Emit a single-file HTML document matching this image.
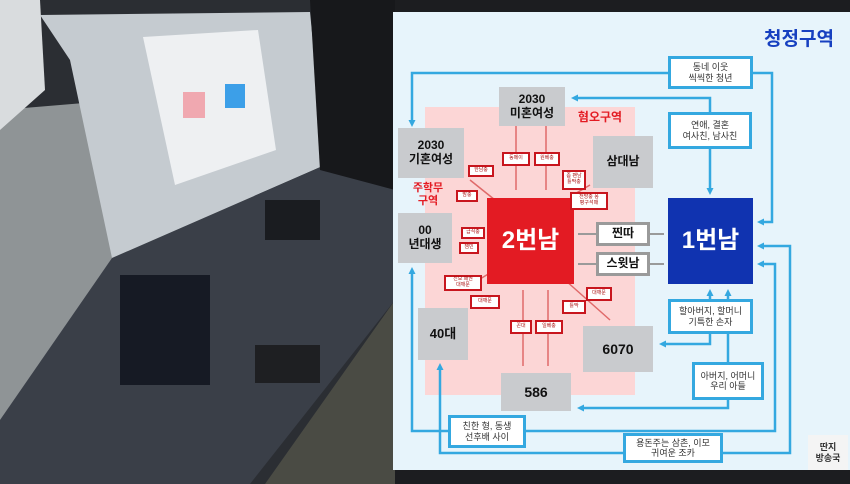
<!DOCTYPE html>
<html><head><meta charset="utf-8"><style>
body{margin:0;width:850px;height:484px;overflow:hidden;background:#1c1d20;font-family:"Liberation Sans","Noto Sans CJK KR",sans-serif;position:relative}
.a{position:absolute;box-sizing:border-box;display:flex;align-items:center;justify-content:center;text-align:center;line-height:1.15;font-weight:bold}
.g{background:#c9cbce;color:#111;font-size:12px}
.b{background:#fff;border:3px solid #34a8e0;color:#333;font-size:9px;font-weight:normal}
.r{background:#fff;border:2px solid #c8161e;color:#a11;font-size:5px;font-weight:normal;padding:1px}
.w{background:#fff;border:3px solid #9a9a9a;color:#111;font-size:12px}
</style></head><body>
<svg width="850" height="484" style="position:absolute;left:0;top:0">
<defs><marker id="m" markerUnits="userSpaceOnUse" markerWidth="7" markerHeight="7" refX="4" refY="3.5" orient="auto"><path d="M0,0 L7,3.5 L0,7z" fill="#34a8e0"/></marker></defs>
<rect x="0" y="0" width="395" height="484" fill="#2b2e33"/>
<polygon points="0,110 120,100 330,250 330,300 0,420" fill="#8f9496"/>
<polygon points="0,0 40,0 45,90 0,130" fill="#d9dcde"/>
<polygon points="40,15 310,12 325,165 112,258 70,60" fill="#c5cbd0"/>
<polygon points="143,37 258,30 276,150 175,185" fill="#eef0f2"/>
<rect x="183" y="92" width="22" height="26" fill="#f0a8b0"/>
<rect x="225" y="84" width="20" height="24" fill="#3c9fe8"/>
<polygon points="112,258 325,165 395,190 395,300 250,484 0,484 0,420" fill="#3a3f48"/>
<polygon points="310,0 395,0 395,190 320,170" fill="#17181b"/>
<rect x="265" y="200" width="55" height="40" fill="#1a1c20"/>
<rect x="120" y="275" width="90" height="110" fill="#161a24"/>
<rect x="255" y="345" width="65" height="38" fill="#1e1f22"/>
<polygon points="395,300 395,484 265,484" fill="#4a4b44"/>
<rect x="393" y="12" width="457" height="458" fill="#e7f4fb"/>
<rect x="425" y="107" width="210" height="288" fill="#fcd6d6"/>
<g stroke="#34a8e0" stroke-width="2.5" fill="none" marker-end="url(#m)">
<polyline points="668,73 412,73 412,124"/>
<polyline points="752,73 772,73 772,222 760,222"/>
<polyline points="710,113 710,98 574,98"/>
<polyline points="710,148 710,192"/>
<polyline points="710,299 710,292"/><polyline points="728,299 728,292"/>
<polyline points="710,333 710,344 662,344"/>
<polyline points="728,399 728,408 580,408"/>
<polyline points="448,431 412,431 412,270"/>
<polyline points="525,431 775,431 775,264 760,264"/>
<polyline points="623,453 440,453 440,366"/>
<polyline points="722,453 790,453 790,246 760,246"/>
</g>
<line x1="728" y1="333" x2="728" y2="362" stroke="#34a8e0" stroke-width="2.5"/>
<g stroke="#9a9a9a" stroke-width="2"><line x1="596" y1="234" x2="578" y2="234"/><line x1="650" y1="234" x2="664" y2="234"/><line x1="578" y1="264" x2="596" y2="264"/><line x1="650" y1="264" x2="664" y2="264"/></g>
<g stroke="#e06a6a" stroke-width="1.5"><line x1="516" y1="126" x2="516" y2="190"/><line x1="546" y1="126" x2="546" y2="190"/><line x1="523" y1="290" x2="523" y2="366"/><line x1="548" y1="290" x2="548" y2="366"/><line x1="470" y1="180" x2="495" y2="200"/><line x1="465" y1="288" x2="495" y2="270"/><line x1="565" y1="280" x2="610" y2="320"/><line x1="573" y1="195" x2="590" y2="185"/></g>
</svg>
<div class="a" style="left:755px;top:28px;width:88px;height:24px;color:#1740c0;font-size:19px">청정구역</div>
<div class="a b" style="left:668px;top:56px;width:85px;height:33px">동네 이웃<br>씩씩한 청년</div>
<div class="a b" style="left:668px;top:112px;width:84px;height:37px">연애, 결혼<br>여사친, 남사친</div>
<div class="a" style="left:668px;top:198px;width:85px;height:86px;background:#1033b0;color:#fff;font-size:24px">1번남</div>
<div class="a" style="left:487px;top:198px;width:87px;height:86px;background:#e31b23;color:#fff;font-size:24px">2번남</div>
<div class="a g" style="left:499px;top:87px;width:66px;height:39px">2030<br>미혼여성</div>
<div class="a" style="left:572px;top:110px;width:56px;height:16px;color:#e31b23;font-size:12px">혐오구역</div>
<div class="a g" style="left:398px;top:128px;width:66px;height:50px">2030<br>기혼여성</div>
<div class="a g" style="left:593px;top:136px;width:60px;height:52px">삼대남</div>
<div class="a" style="left:408px;top:180px;width:40px;height:30px;color:#e31b23;font-size:11px">주학무<br>구역</div>
<div class="a g" style="left:398px;top:213px;width:54px;height:50px">00<br>년대생</div>
<div class="a w" style="left:596px;top:222px;width:54px;height:24px">찐따</div>
<div class="a w" style="left:596px;top:252px;width:54px;height:24px">스윗남</div>
<div class="a g" style="left:418px;top:308px;width:50px;height:52px;font-size:13px">40대</div>
<div class="a g" style="left:583px;top:326px;width:70px;height:46px;font-size:14px">6070</div>
<div class="a g" style="left:501px;top:373px;width:70px;height:38px;font-size:14px">586</div>
<div class="a b" style="left:668px;top:299px;width:85px;height:35px">할아버지, 할머니<br>기특한 손자</div>
<div class="a b" style="left:692px;top:362px;width:72px;height:38px">아버지, 어머니<br>우리 아들</div>
<div class="a b" style="left:448px;top:415px;width:78px;height:33px">친한 형, 동생<br>선후배 사이</div>
<div class="a b" style="left:623px;top:433px;width:100px;height:30px">용돈주는 삼촌, 이모<br>귀여운 조카</div>
<div class="a" style="left:808px;top:435px;width:40px;height:35px;background:#f4f4f4;color:#333;font-size:9px">딴지<br>방송국</div>
<div class="a r" style="left:502px;top:152px;width:28px;height:14px">동메이</div>
<div class="a r" style="left:534px;top:152px;width:26px;height:14px">원베충</div>
<div class="a r" style="left:468px;top:165px;width:26px;height:12px">한남충</div>
<div class="a r" style="left:456px;top:190px;width:22px;height:12px">맘충</div>
<div class="a r" style="left:562px;top:170px;width:24px;height:20px">좀 팬남<br>틀딱충</div>
<div class="a r" style="left:570px;top:192px;width:38px;height:18px">전방충 퐁<br>평구석때</div>
<div class="a r" style="left:461px;top:227px;width:24px;height:12px">급식충</div>
<div class="a r" style="left:459px;top:242px;width:20px;height:12px">잼민</div>
<div class="a r" style="left:444px;top:275px;width:38px;height:16px">진보 패권<br>대깨문</div>
<div class="a r" style="left:470px;top:295px;width:30px;height:14px">대깨문</div>
<div class="a r" style="left:562px;top:300px;width:24px;height:14px">틀딱</div>
<div class="a r" style="left:586px;top:287px;width:26px;height:14px">대깨문</div>
<div class="a r" style="left:510px;top:320px;width:22px;height:14px">꼰대</div>
<div class="a r" style="left:535px;top:320px;width:28px;height:14px">일베충</div>
</body></html>
